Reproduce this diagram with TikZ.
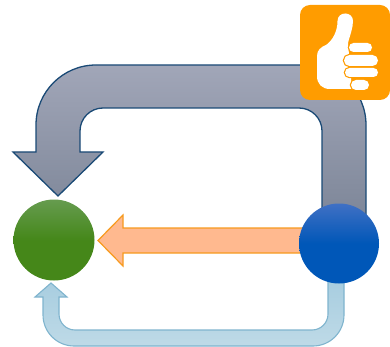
\documentclass[tikz,border=0pt]{standalone}
\usepackage{tikz}

\definecolor{grayline}{HTML}{1A4A76}
\definecolor{graytop}{HTML}{A1A6B8}
\definecolor{graylow}{HTML}{7C8597}
\definecolor{orangeline}{HTML}{F79A1E}
\definecolor{orangefill}{HTML}{FFB98F}
\definecolor{skyline}{HTML}{7FB4CE}
\definecolor{skytop}{HTML}{A6CCDF}
\definecolor{skylow}{HTML}{BEDAE7}
\definecolor{thumbbg}{HTML}{FF9C00}

\pgfdeclareverticalshading{greenball}{100bp}{rgb(0bp)=(0.27,0.53,0.10); rgb(50bp)=(0.27,0.53,0.10); rgb(75bp)=(0.40,0.61,0.31); rgb(100bp)=(0.40,0.61,0.31)}
\pgfdeclareverticalshading{blueball}{100bp}{rgb(0bp)=(0.0,0.34,0.72); rgb(50bp)=(0.0,0.34,0.72); rgb(75bp)=(0.25,0.44,0.77); rgb(100bp)=(0.25,0.44,0.77)}

\tikzset{
  ball/.style={circle,inner sep=0pt,outer sep=0pt},
  fingerpill/.style={fill=white,rounded corners=\r pt},
}

\begin{document}
\begin{tikzpicture}[x=1pt,y=-1pt,line join=miter]
  \useasboundingbox (0,0) rectangle (390,347);

  % big arrow on top
  \draw[grayline,line width=1.3pt,top color=graytop,bottom color=graylow]
    (366,225) [rounded corners=60pt] -- (366,65) -- (36,65) [sharp corners] -- (36,152)
    -- (13,152) -- (58,196) -- (103,152) -- (80,152)
    [rounded corners=23pt] -- (80,108) -- (322,108) [sharp corners] -- (322,225) -- cycle;

  % orange arrow
  \draw[orangeline,line width=1.2pt,fill=orangefill]
    (310,228) -- (123,228) -- (123,215) -- (98,240.5) -- (123,266) -- (123,253) -- (310,253) -- cycle;

  % bottom arrow
  \draw[skyline,line width=1.1pt,top color=skytop,bottom color=skylow]
    (344,275) [rounded corners=31pt] -- (344,346) -- (43,346) [sharp corners] -- (43,297)
    -- (35,297) -- (51,283) -- (67,297) -- (59,297)
    [rounded corners=16pt] -- (59,330) -- (328,330) [sharp corners] -- (328,275) -- cycle;

  \node[ball,minimum size=81pt,shading=greenball] (good) at (54,240) {};
  \node[ball,minimum size=80pt,shading=blueball] (start) at (339,243.5) {};

  % thumb icon
  \fill[thumbbg,rounded corners=10pt] (300,5) rectangle (390,100);
  \fill[white]
    (337.5,21) .. controls (337.5,11) and (353,11) .. (353,21)
    .. controls (353,28) and (350,35) .. (348,43) -- (352,89) -- (330,89)
    .. controls (322,89) and (317,84) .. (317,76)
    -- (317,56) .. controls (317,50) and (321,47) .. (326,45)
    .. controls (332,41) and (337.5,32) .. (337.5,21) -- cycle;
  \foreach \xa/\ya/\xb/\yb/\r in {349/43/372/52/4.5,344/55/378/66/5.5,345/68/378/77/4.5,351/80/369/90/5} {
    \draw[thumbbg,line width=2.4pt,rounded corners=\r pt] (\xa,\ya) rectangle (\xb,\yb);
    \fill[fingerpill] (\xa,\ya) rectangle (\xb,\yb);
  }
\end{tikzpicture}
\end{document}
